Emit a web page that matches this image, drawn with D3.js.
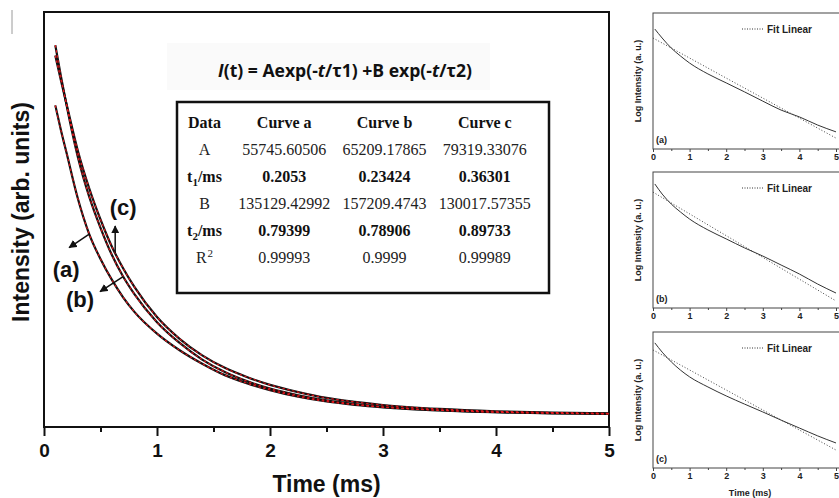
<!DOCTYPE html>
<html>
<head>
<meta charset="utf-8">
<title>Decay curves</title>
<script src="https://cdn.jsdelivr.net/npm/d3@7/dist/d3.min.js"></script>
<style>
  html, body { margin: 0; padding: 0; background: #fff; }
  svg { display: block; }
</style>
</head>
<body>
<div id="chart"></div>
<script>
// ---- values ----

// main plot: decay curves, intensity in thousands of arb. units
const timeMs = [0.1, 0.15, 0.2, 0.3, 0.4, 0.5, 0.6, 0.7, 0.8, 1.0, 1.2, 1.4, 1.6, 1.8, 2.0, 2.25, 2.5, 2.75, 3.0, 3.5, 4.0, 4.5, 5.0];
const curveA = [155, 143, 132, 110, 93, 81, 71, 62.5, 55.5, 45, 37, 30.5, 25, 21, 17.8, 14.6, 12.3, 10.7, 9.5, 8.0, 7.1, 6.6, 6.3];
const curveB = [184, 169, 155, 130, 111, 96, 83, 72.5, 64, 50.5, 40.5, 32.5, 26.5, 22, 18.5, 15.3, 12.8, 11, 9.7, 8.1, 7.2, 6.7, 6.4];
const curveC = [179, 167, 155.5, 133, 115, 100, 87, 76.5, 67.5, 53, 42.5, 34.5, 28.5, 24, 20.3, 16.8, 14, 12.1, 10.6, 8.7, 7.6, 7.0, 6.6];
const curveNames = ['(a)', '(b)', '(c)'];
const arrowTimes = [0.4, 0.7, 0.63];

const mainTicks = [0, 1, 2, 3, 4, 5];
const mainMinorTicks = [0.5, 1.5, 2.5, 3.5, 4.5];

// fit table
const tableHeader = ['Data', 'Curve a', 'Curve b', 'Curve c'];
const rowLabelText = ['A', 't', 'B', 't', 'R'];
const rowLabelSub = ['', '1', '', '2', ''];
const rowLabelSup = ['', '', '', '', '2'];
const rowLabelTail = ['', '/ms', '', '/ms', ''];
const rowBold = [false, true, false, true, false];
const paramA = ['55745.60506', '65209.17865', '79319.33076'];
const tau1 = ['0.2053', '0.23424', '0.36301'];
const paramB = ['135129.42992', '157209.4743', '130017.57355'];
const tau2 = ['0.79399', '0.78906', '0.89733'];
const rSquared = ['0.99993', '0.9999', '0.99989'];

// side panels: log intensity with linear fit
const logTime = [0.05, 0.25, 0.5, 0.75, 1, 1.5, 2, 2.5, 3, 3.5, 4, 4.5, 5];
const logCurveA = [4.41, 4.08, 3.71, 3.42, 3.16, 2.76, 2.43, 2.10, 1.76, 1.43, 1.18, 0.88, 0.63];
const logCurveB = [4.56, 4.19, 3.82, 3.53, 3.27, 2.87, 2.54, 2.21, 1.91, 1.58, 1.25, 0.88, 0.55];
const logCurveC = [4.60, 4.26, 3.90, 3.60, 3.35, 2.98, 2.65, 2.35, 2.06, 1.76, 1.47, 1.18, 0.92];
const fitTime = [0, 5];
const fitA = [4.08, 0.40];
const fitB = [4.26, 0.26];
const fitC = [4.34, 0.66];
const panelNames = ['(a)', '(b)', '(c)'];

// ---- drawing ----
const sans = '"Liberation Sans", Arial, sans-serif';
const serif = '"Liberation Serif", "Times New Roman", serif';

const svg = d3.select('#chart')
  .append('svg')
  .attr('width', 839)
  .attr('height', 498);

const defs = svg.append('defs');
defs.append('marker')
  .attr('id', 'arrowhead')
  .attr('viewBox', '0 0 10 10')
  .attr('refX', 9)
  .attr('refY', 5)
  .attr('markerWidth', 5.5)
  .attr('markerHeight', 5.5)
  .attr('orient', 'auto')
  .append('path')
  .attr('d', 'M0,0 L10,5 L0,10 z')
  .attr('fill', '#111');

// stray rule at the far left of the scan
svg.append('line')
  .attr('x1', 12).attr('x2', 12).attr('y1', 10).attr('y2', 34)
  .attr('stroke', '#9a9a9a').attr('stroke-width', 1);

renderMainChart();
renderFitTable();
renderLogPanels();

/**
 * Main decay plot with the three curves and their fits
 */
function renderMainChart() {
  const x = d3.scaleLinear().domain([0, 5]).range([44, 609]);
  const y = d3.scaleLinear().domain([0, 200]).range([427, 12]);
  const g = svg.append('g').attr('class', 'main-chart');

  // very faint band behind the formula
  g.append('rect')
    .attr('x', 167).attr('y', 43).attr('width', 323).attr('height', 47)
    .attr('fill', '#fafafa');

  // formula, drawn as one string with italic pieces
  const formulaParts = [['I', true], ['(t) = Aexp(-', false], ['t', true], ['/\u03C41) +B exp(-', false], ['t', true], ['/\u03C42)', false]];
  const formula = g.append('text')
    .attr('x', 345)
    .attr('y', 77)
    .attr('text-anchor', 'middle')
    .attr('font-family', '"Open Sans", "Noto Sans", sans-serif')
    .attr('font-weight', 700)
    .attr('font-size', 18)
    .attr('fill', '#111');
  formulaParts.forEach(([txt, italic]) => {
    formula.append('tspan')
      .attr('font-style', italic ? 'italic' : 'normal')
      .text(txt);
  });
  // squeeze to the width seen in the figure
  const fw = formula.node().getComputedTextLength();
  if (fw > 254) {
    formula.attr('transform', `translate(345,77) scale(${254 / fw},1) translate(-345,-77)`);
  }

  // x axis, major + minor ticks
  const axisG = g.append('g').attr('transform', 'translate(0,427)');
  axisG.call(d3.axisBottom(x)
    .tickValues(mainTicks)
    .tickFormat(d3.format('d'))
    .tickSize(9)
    .tickSizeOuter(0)
    .tickPadding(8));
  axisG.append('g').call(d3.axisBottom(x)
    .tickValues(mainMinorTicks)
    .tickFormat('')
    .tickSize(5)
    .tickSizeOuter(0));
  axisG.selectAll('.domain').remove();
  axisG.selectAll('line').attr('stroke', '#111').attr('stroke-width', 2);
  axisG.selectAll('text')
    .attr('font-family', sans)
    .attr('font-weight', 700)
    .attr('font-size', 19)
    .attr('fill', '#111');

  // frame
  g.append('rect')
    .attr('x', x(0)).attr('y', y(200))
    .attr('width', x(5) - x(0)).attr('height', y(0) - y(200))
    .attr('fill', 'none')
    .attr('stroke', '#111')
    .attr('stroke-width', 2);

  // axis titles
  g.append('text')
    .attr('x', (x(0) + x(5)) / 2)
    .attr('y', 492)
    .attr('text-anchor', 'middle')
    .attr('font-family', sans)
    .attr('font-weight', 700)
    .attr('font-size', 23)
    .attr('fill', '#111')
    .text('Time (ms)');

  g.append('text')
    .attr('transform', 'translate(29,212) rotate(-90)')
    .attr('text-anchor', 'middle')
    .attr('font-family', sans)
    .attr('font-weight', 700)
    .attr('font-size', 23)
    .attr('fill', '#111')
    .text('Intensity (arb. units)');

  // curves: black data line with red dashed fit on top
  const curves = [curveA, curveB, curveC];
  const line = d3.line()
    .x((d, i) => x(timeMs[i]))
    .y(d => y(d))
    .curve(d3.curveMonotoneX);

  const curveG = g.append('g').attr('class', 'curves');
  curveG.selectAll('.data-line')
    .data(curves)
    .enter()
    .append('path')
    .attr('class', 'data-line')
    .attr('d', line)
    .attr('fill', 'none')
    .attr('stroke', '#111')
    .attr('stroke-width', 2.2);
  curveG.selectAll('.fit-line')
    .data(curves)
    .enter()
    .append('path')
    .attr('class', 'fit-line')
    .attr('d', line)
    .attr('fill', 'none')
    .attr('stroke', '#e8151b')
    .attr('stroke-width', 1.1)
    .attr('stroke-dasharray', '2.5,2.5');

  // arrows + labels (offsets from the curve point)
  const arrowVec = [[-20, 13.5], [-23, 15], [0, -27]];
  const labelOff = [[-3, 22], [-20, 8], [8, -19]];
  const bisect = d3.bisector(d => d).left;
  const valueAt = (series, t) => {
    const i = Math.max(1, bisect(timeMs, t));
    const k = (t - timeMs[i - 1]) / (timeMs[i] - timeMs[i - 1]);
    return series[i - 1] + k * (series[i] - series[i - 1]);
  };

  curves.forEach((series, i) => {
    const t = arrowTimes[i];
    const x0 = x(t);
    const y0 = y(valueAt(series, t));
    const x1 = x0 + arrowVec[i][0];
    const y1 = y0 + arrowVec[i][1];
    g.append('line')
      .attr('x1', x0).attr('y1', y0)
      .attr('x2', x1).attr('y2', y1)
      .attr('stroke', '#111')
      .attr('stroke-width', 1.5)
      .attr('marker-end', 'url(#arrowhead)');
    g.append('text')
      .attr('x', x1 + labelOff[i][0])
      .attr('y', y1 + labelOff[i][1])
      .attr('dy', '0.35em')
      .attr('text-anchor', 'middle')
      .attr('font-family', sans)
      .attr('font-weight', 700)
      .attr('font-size', 22)
      .attr('fill', '#111')
      .text(curveNames[i]);
  });
}

/**
 * Table of fit parameters
 */
function renderFitTable() {
  const g = svg.append('g').attr('class', 'fit-table');
  g.append('rect')
    .attr('x', 177).attr('y', 102).attr('width', 372).attr('height', 191)
    .attr('fill', '#fff')
    .attr('stroke', '#111')
    .attr('stroke-width', 2.5);

  const col = d3.scaleBand().domain([0, 1, 2]).range([234, 535]);
  const row = d3.scalePoint().domain(d3.range(6)).range([128, 263]);
  const labelX = 204.5;
  const values = [paramA, tau1, paramB, tau2, rSquared];

  const txt = (xPos, yPos, bold) => g.append('text')
    .attr('x', xPos)
    .attr('y', yPos)
    .attr('text-anchor', 'middle')
    .attr('font-family', serif)
    .attr('font-weight', bold ? 700 : 400)
    .attr('font-size', 16)
    .attr('fill', bold ? '#111' : '#222');

  // header
  tableHeader.forEach((h, i) => {
    const xPos = i === 0 ? labelX : col(i - 1) + col.bandwidth() / 2;
    txt(xPos, row(0), true).text(h);
  });

  // rows
  values.forEach((vals, r) => {
    const yPos = row(r + 1);
    const label = txt(labelX, yPos, rowBold[r]);
    label.append('tspan').text(rowLabelText[r]);
    if (rowLabelSub[r]) {
      label.append('tspan').attr('font-size', 11).attr('dy', 4).text(rowLabelSub[r]);
      label.append('tspan').attr('dy', -4).text(rowLabelTail[r]);
    }
    if (rowLabelSup[r]) {
      label.append('tspan').attr('font-size', 11).attr('dx', 1).attr('dy', -6).text(rowLabelSup[r]);
    }
    vals.forEach((v, c) => {
      txt(col(c) + col.bandwidth() / 2, yPos, rowBold[r]).text(v);
    });
  });
}

/**
 * Three small log-intensity panels on the right
 */
function renderLogPanels() {
  const panelTops = [13, 172, 332];
  const panelHeight = 136;
  const x = d3.scaleLinear().domain([0, 5]).range([653, 836]);
  const logCurves = [logCurveA, logCurveB, logCurveC];
  const fits = [fitA, fitB, fitC];

  panelTops.forEach((top, p) => {
    const bottom = top + panelHeight;
    const y = d3.scaleLinear().domain([0, 5]).range([bottom, top]);
    const g = svg.append('g').attr('class', 'log-panel');

    // frame (right edge runs off the page)
    g.append('rect')
      .attr('x', x(0)).attr('y', top)
      .attr('width', 190).attr('height', panelHeight)
      .attr('fill', 'none')
      .attr('stroke', '#444')
      .attr('stroke-width', 1);

    const axisG = g.append('g').attr('transform', `translate(0,${bottom})`);
    axisG.call(d3.axisBottom(x)
      .tickValues([0, 1, 2, 3, 4, 5])
      .tickFormat(d3.format('d'))
      .tickSize(3)
      .tickSizeOuter(0)
      .tickPadding(2));
    axisG.append('g').call(d3.axisBottom(x)
      .tickValues([0.5, 1.5, 2.5, 3.5, 4.5])
      .tickFormat('')
      .tickSize(2)
      .tickSizeOuter(0));
    axisG.selectAll('.domain').remove();
    axisG.selectAll('line').attr('stroke', '#444');
    axisG.selectAll('text')
      .attr('font-family', sans)
      .attr('font-weight', 700)
      .attr('font-size', 9)
      .attr('fill', '#222');

    g.append('text')
      .attr('transform', `translate(641,${(top + bottom) / 2}) rotate(-90)`)
      .attr('text-anchor', 'middle')
      .attr('font-family', sans)
      .attr('font-weight', 700)
      .attr('font-size', 9)
      .attr('fill', '#222')
      .text('Log Intensity (a. u.)');

    g.append('text')
      .attr('x', 656)
      .attr('y', bottom - 6)
      .attr('font-family', sans)
      .attr('font-weight', 700)
      .attr('font-size', 9)
      .attr('fill', '#222')
      .text(panelNames[p]);

    // legend
    g.append('line')
      .attr('x1', 742).attr('x2', 763)
      .attr('y1', top + 16).attr('y2', top + 16)
      .attr('stroke', '#333')
      .attr('stroke-width', 1)
      .attr('stroke-dasharray', '1,1.5');
    g.append('text')
      .attr('x', 767)
      .attr('y', top + 19.5)
      .attr('font-family', sans)
      .attr('font-weight', 700)
      .attr('font-size', 10)
      .attr('fill', '#222')
      .text('Fit Linear');

    // data and fit
    const dataLine = d3.line()
      .x((d, i) => x(logTime[i]))
      .y(d => y(d))
      .curve(d3.curveMonotoneX);
    const fitLine = d3.line()
      .x((d, i) => x(fitTime[i]))
      .y(d => y(d));

    g.append('path')
      .attr('d', dataLine(logCurves[p]))
      .attr('fill', 'none')
      .attr('stroke', '#333')
      .attr('stroke-width', 1);
    g.append('path')
      .attr('d', fitLine(fits[p]))
      .attr('fill', 'none')
      .attr('stroke', '#444')
      .attr('stroke-width', 1)
      .attr('stroke-dasharray', '1,2');
  });

  svg.append('text')
    .attr('x', 750)
    .attr('y', 496)
    .attr('text-anchor', 'middle')
    .attr('font-family', sans)
    .attr('font-weight', 700)
    .attr('font-size', 9)
    .attr('fill', '#222')
    .text('Time (ms)');
}
</script>
</body>
</html>
